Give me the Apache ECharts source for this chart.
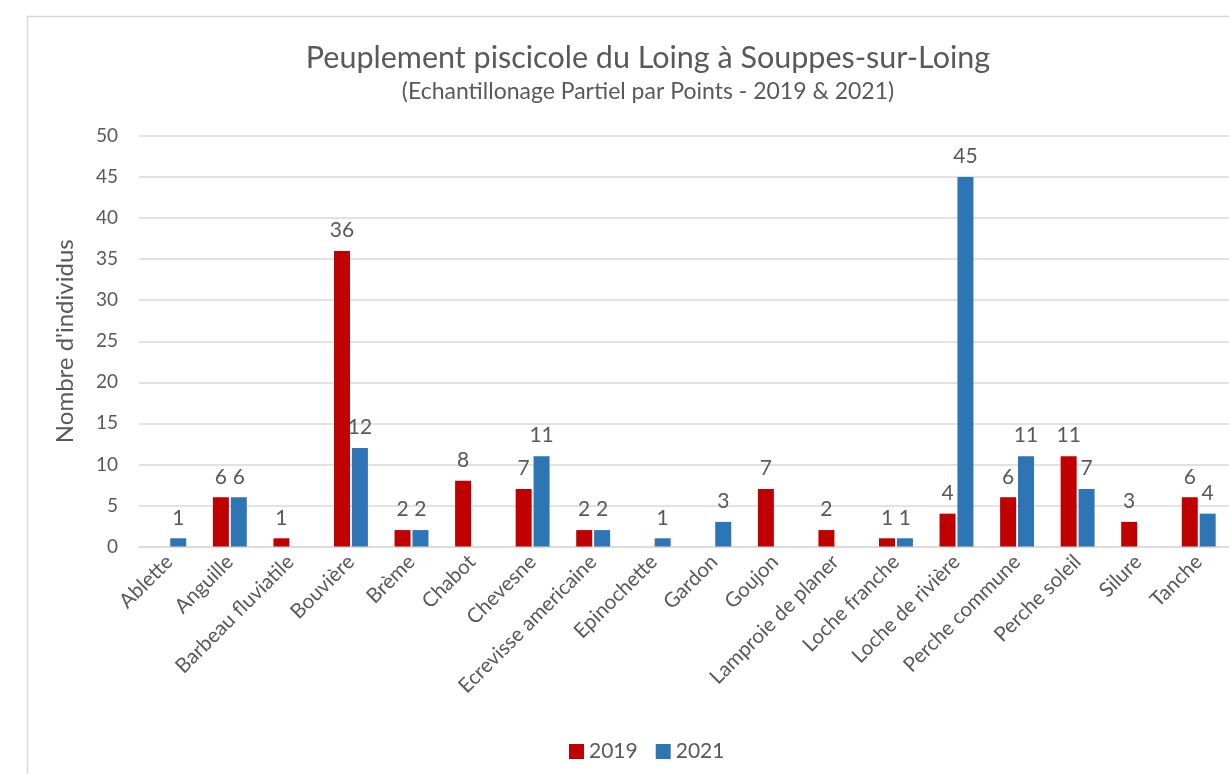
<!DOCTYPE html>
<html>
<head>
<meta charset="utf-8">
<script src="https://cdn.jsdelivr.net/npm/echarts@6/dist/echarts.min.js"></script>
<style>html,body{margin:0;padding:0;background:#fff;}#c{width:1229px;height:774px;}</style>
</head>
<body>
<div id="c"></div>
<script>
const categories = ['Ablette','Anguille','Barbeau fluviatile','Bouvière','Brème','Chabot','Chevesne','Ecrevisse americaine','Epinochette','Gardon','Goujon','Lamproie de planer','Loche franche','Loche de rivière','Perche commune','Perche soleil','Silure','Tanche'];
const values2019 = [null,6,1,36,2,8,7,2,null,null,7,2,1,4,6,11,3,6];
const values2021 = [1,6,null,12,2,null,11,2,1,3,null,null,1,45,11,7,null,4];
const yTicks = [0,5,10,15,20,25,30,35,40,45,50];

const FONT = 'Lato, "Open Sans", sans-serif';
const GRAY = '#595959';
const chart = echarts.init(document.getElementById('c'), null, {renderer:'canvas'});
chart.setOption({
  animation:false,
  textStyle:{fontFamily:FONT},
  graphic:[{type:'rect', shape:{x:27.5,y:16.5,width:1400,height:900}, style:{fill:'none',stroke:'#d9d9d9',lineWidth:1.5}, z:-10}],
  title:{
    left:643, top:38, textAlign:'center',
    text:'Peuplement piscicole du Loing à Souppes-sur-Loing',
    subtext:'(Echantillonage Partiel par Points - 2019 & 2021)',
    textStyle:{fontFamily:FONT,fontSize:30.5,fontWeight:'normal',color:GRAY},
    subtextStyle:{fontFamily:FONT,fontSize:23,color:GRAY},
    itemGap:6
  },
  legend:{
    left:564, top:736, itemWidth:15, itemHeight:15, itemGap:18, itemStyle:{borderWidth:0},
    icon:'rect',
    textStyle:{fontFamily:FONT,fontSize:21,color:GRAY},
    data:['2019','2021']
  },
  grid:{left:139, top:136, width:1095, height:410.5, containLabel:false},
  xAxis:{
    type:'category', data:categories,
    axisLine:{lineStyle:{color:'#d9d9d9',width:1.5}},
    axisTick:{show:false},
    axisLabel:{rotate:45, fontFamily:FONT, fontSize:20.5, color:GRAY, margin:12, interval:0}
  },
  yAxis:{
    type:'value', min:yTicks[0], max:yTicks[yTicks.length-1], interval:5,
    name:"Nombre d'individus", nameLocation:'middle', nameGap:62, nameRotate:90,
    nameTextStyle:{fontFamily:FONT,fontSize:24,color:GRAY},
    axisLine:{show:false}, axisTick:{show:false},
    axisLabel:{fontFamily:FONT,fontSize:19,color:GRAY,margin:21},
    splitLine:{lineStyle:{color:'#d9d9d9',width:1.5}}
  },
  series:[
    {name:'2019', type:'bar', data:values2019, barWidth:16, barGap:'12%', itemStyle:{color:'#C00000'},
     label:{show:true, position:'top', distance:10, fontFamily:FONT, fontSize:21, color:GRAY}},
    {name:'2021', type:'bar', data:values2021, barWidth:16, itemStyle:{color:'#2E75B6'},
     label:{show:true, position:'top', distance:10, fontFamily:FONT, fontSize:21, color:GRAY}}
  ]
});
</script>
</body>
</html>
